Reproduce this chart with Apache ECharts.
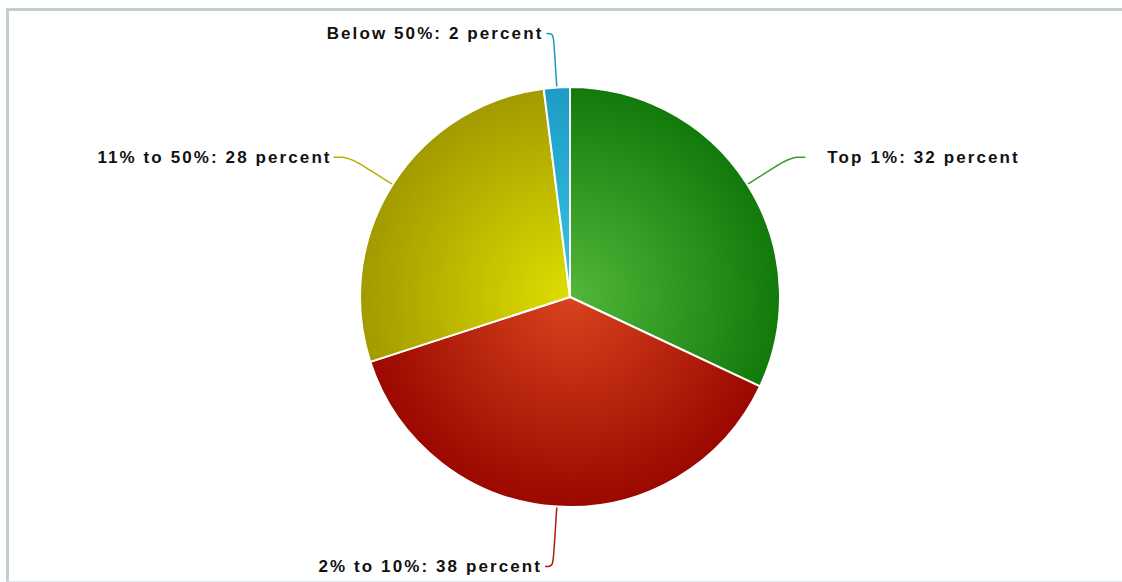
<!DOCTYPE html>
<html>
<head>
<meta charset="utf-8">
<script src="https://cdn.jsdelivr.net/npm/echarts@6/dist/echarts.min.js"></script>
<style>
  html, body { margin: 0; padding: 0; background: #ffffff; }
  #frame {
    position: absolute; left: 6px; top: 8px; width: 1130px; height: 570px;
    border-left: 3px solid #c3cdd4; border-top: 3px solid #c3cdd4;
    border-bottom: 1px solid #dfe7ec;
  }
  #main { position: absolute; left: 0; top: 0; width: 1122px; height: 582px; }
  #main text { letter-spacing: 2.1px; }
</style>
</head>
<body>
<div id="frame"></div>
<div id="main"></div>
<script>
// data
var groups = ['Top 1%', '2% to 10%', '11% to 50%', 'Below 50%'];
var shares = [32, 38, 28, 2];

// slice colours: inner, outer, line
var innerColors = ['#52b83a', '#d8441c', '#dede00', '#38c4e2'];
var outerColors = ['#117a0a', '#9a0800', '#a29a00', '#1c9cc4'];
var lineColors = ['#3d9a2c', '#b01a0a', '#b4b000', '#1a9ab8'];

var chart = echarts.init(document.getElementById('main'), null, { renderer: 'svg' });

function grad(i) {
  return {
    type: 'radial', x: 570, y: 297, r: 210, global: true,
    colorStops: [
      { offset: 0, color: innerColors[i] },
      { offset: 1, color: outerColors[i] }
    ]
  };
}

// per-slice line lengths and gaps
var lineLen = [51, 60, 51, 54];
var lineLen2 = [15, 8, 16, 7];
var gaps = [22, 3, 2, 3];

var items = [];
for (var i = 0; i < groups.length; i++) {
  items.push({
    name: groups[i],
    value: shares[i],
    itemStyle: { color: grad(i) },
    label: { distanceToLabelLine: gaps[i] },
    labelLine: {
      length: lineLen[i],
      length2: lineLen2[i],
      lineStyle: { color: lineColors[i], width: 1.5 }
    }
  });
}

var option = {
  animation: false,
  series: [{
    type: 'pie',
    center: [570, 297],
    radius: 210,
    startAngle: 90,
    clockwise: true,
    avoidLabelOverlap: false,
    itemStyle: { borderColor: '#ffffff', borderWidth: 2 },
    label: {
      show: true,
      position: 'outside',
      formatter: '{b}: {c} percent',
      color: '#111111',
      fontFamily: 'Liberation Sans, Arial, sans-serif',
      fontWeight: 'bold',
      fontSize: 17
    },
    labelLine: { show: true, smooth: 0.4 },
    emphasis: { disabled: true },
    data: items
  }]
};

chart.setOption(option);
</script>
</body>
</html>
